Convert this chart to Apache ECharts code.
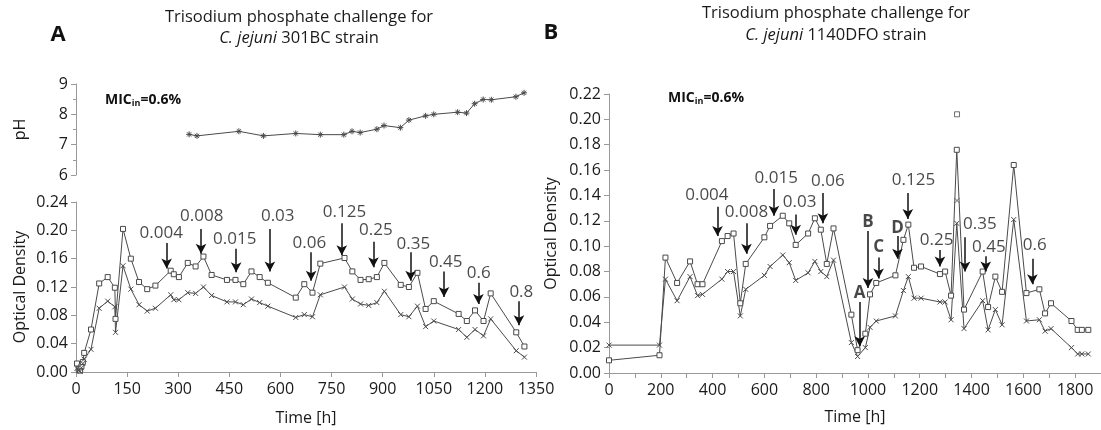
<!DOCTYPE html>
<html>
<head>
<meta charset="utf-8">
<script src="https://cdn.jsdelivr.net/npm/echarts@6/dist/echarts.min.js"></script>
</head>
<body style="margin:0">
<div id="container" style="width:1101px;height:430px"></div>
<script type="text/javascript">
// panel A: 301BC strain
var phTime = [332, 355, 478, 550, 645, 717, 786, 810, 834, 883, 904, 952, 977, 1026, 1050, 1120, 1146, 1170, 1195, 1219, 1291, 1315];
var phValue = [7.34, 7.29, 7.44, 7.29, 7.37, 7.33, 7.33, 7.44, 7.40, 7.51, 7.63, 7.56, 7.81, 7.95, 8.00, 8.07, 8.04, 8.35, 8.49, 8.48, 8.58, 8.71];

var aTime = [3, 8, 12, 16, 20, 24, 44, 68, 93, 114, 116, 138, 161, 185, 209, 233, 278, 287, 302, 328, 351, 374, 398, 443, 468, 491, 515, 539, 563, 645, 670, 694, 717, 788, 811, 835, 859, 883, 905, 953, 977, 1002, 1026, 1050, 1123, 1147, 1171, 1196, 1217, 1292, 1316];
var aSquare = [0.012, 0.004, 0.002, 0.008, 0.014, 0.027, 0.060, 0.125, 0.134, 0.119, 0.075, 0.202, 0.160, 0.127, 0.117, 0.122, 0.143, 0.138, 0.134, 0.154, 0.149, 0.163, 0.137, 0.130, 0.130, 0.124, 0.142, 0.134, 0.126, 0.105, 0.124, 0.112, 0.153, 0.161, 0.142, 0.130, 0.131, 0.134, 0.154, 0.123, 0.120, 0.140, 0.089, 0.100, 0.082, 0.072, 0.087, 0.072, 0.111, 0.056, 0.036];
var aCross = [0.005, 0.002, 0.001, 0.006, 0.012, 0.018, 0.032, 0.090, 0.100, 0.092, 0.056, 0.150, 0.117, 0.095, 0.086, 0.090, 0.109, 0.102, 0.102, 0.112, 0.111, 0.120, 0.108, 0.099, 0.099, 0.095, 0.103, 0.098, 0.093, 0.077, 0.081, 0.078, 0.109, 0.120, 0.103, 0.096, 0.094, 0.098, 0.114, 0.081, 0.078, 0.093, 0.064, 0.072, 0.060, 0.049, 0.060, 0.051, 0.075, 0.030, 0.021];

// concentration arrows, panel A: [time, arrow top, arrow tip]
var aArrowText = ['0.004', '0.008', '0.015', '0.03', '0.06', '0.125', '0.25', '0.35', '0.45', '0.6', '0.8'];
var aArrowTime = [266, 367, 470, 569, 690, 780, 873, 982, 1080, 1181, 1300];
var aArrowTop = [0.182, 0.202, 0.174, 0.202, 0.169, 0.210, 0.184, 0.169, 0.142, 0.126, 0.100];
var aArrowTip = [0.146, 0.167, 0.141, 0.142, 0.129, 0.165, 0.148, 0.129, 0.106, 0.096, 0.066];
var aLabelTime = [250, 369, 466, 592, 685, 788, 880, 990, 1085, 1182, 1307];
var aLabelOD = [0.196, 0.220, 0.188, 0.220, 0.182, 0.226, 0.200, 0.181, 0.155, 0.140, 0.113];

// panel B: 1140DFO strain
var bTime = [0, 195, 218, 263, 313, 342, 361, 436, 458, 481, 507, 528, 600, 622, 671, 696, 721, 769, 795, 818, 841, 867, 936, 960, 990, 1008, 1032, 1106, 1137, 1156, 1178, 1205, 1278, 1298, 1321, 1343, 1371, 1443, 1464, 1492, 1518, 1563, 1612, 1662, 1684, 1707, 1786, 1810, 1826, 1851];
var bSquare = [0.010, 0.014, 0.091, 0.071, 0.088, 0.070, 0.070, 0.104, 0.108, 0.110, 0.055, 0.086, 0.107, 0.116, 0.124, 0.118, 0.101, 0.110, 0.122, 0.113, 0.086, 0.114, 0.046, 0.018, 0.031, 0.062, 0.071, 0.077, 0.105, 0.117, 0.083, 0.084, 0.078, 0.080, 0.061, 0.176, 0.050, 0.080, 0.052, 0.076, 0.064, 0.164, 0.063, 0.066, 0.047, 0.055, 0.041, 0.034, 0.034, 0.034];
var bCross = [0.022, 0.022, 0.074, 0.057, 0.076, 0.061, 0.062, 0.074, 0.080, 0.080, 0.045, 0.066, 0.077, 0.084, 0.093, 0.087, 0.073, 0.079, 0.088, 0.080, 0.076, 0.089, 0.024, 0.013, 0.020, 0.036, 0.041, 0.045, 0.065, 0.076, 0.059, 0.059, 0.056, 0.056, 0.042, 0.118, 0.035, 0.057, 0.034, 0.050, 0.038, 0.121, 0.041, 0.042, 0.033, 0.035, 0.020, 0.015, 0.015, 0.015];
var bLoneSquare = [[1344, 0.204]];
var bLoneCross = [[1344, 0.136]];

var bArrowText = ['0.004', '0.008', '0.015', '0.03', '0.06', 'A', 'B', 'C', 'D', '0.125', '0.25', '0.35', '0.45', '0.6'];
var bArrowTime = [419, 531, 637, 721, 826, 968, 1000, 1041, 1114, 1154, 1278, 1375, 1455, 1635];
var bArrowTop = [0.131, 0.118, 0.145, 0.125, 0.142, 0.056, 0.112, 0.091, 0.108, 0.142, 0.097, 0.107, 0.092, 0.090];
var bArrowTip = [0.108, 0.094, 0.124, 0.109, 0.118, 0.021, 0.067, 0.0745, 0.090, 0.1215, 0.084, 0.080, 0.080, 0.070];
var bLabelTime = [378, 531, 646, 736, 845, 968, 1000, 1041, 1114, 1176, 1265, 1432, 1467, 1644];
var bLabelOD = [0.140, 0.127, 0.154, 0.1346, 0.1516, 0.0633, 0.119, 0.0993, 0.114, 0.152, 0.105, 0.117, 0.0993, 0.101];

var FONT = 'Open Sans';
var INK = '#1a1a1a';
var LINE = '#4a4a4a';
var AXIS = '#999';
var crossSym = 'path://M0,0L10,10M10,0L0,10';
var starSym = 'path://M5,0L5,10M0,5L10,5M1.5,1.5L8.5,8.5M8.5,1.5L1.5,8.5';

function zip(xs, ys) {
    return xs.map(function (x, i) { return [x, ys[i]]; });
}

function arrowLines(time, top, tip) {
    return time.map(function (t, i) {
        return [{ coord: [t, top[i]] }, { coord: [t, tip[i]] }];
    });
}

function labelPoints(text, time, od) {
    return text.map(function (s, i) {
        var bold = /^[A-D]$/.test(s);
        return {
            name: s,
            value: [time[i], od[i]],
            label: bold ? { fontWeight: 'bold', fontSize: 17 } : {}
        };
    });
}

function valueAxisStyle(extra) {
    var base = {
        type: 'value',
        axisLine: { show: true, lineStyle: { color: AXIS, width: 1 } },
        axisTick: { show: true, length: 5, lineStyle: { color: AXIS } },
        splitLine: { show: false },
        axisLabel: { color: INK, fontFamily: FONT, fontSize: 16 },
        nameTextStyle: { color: INK, fontFamily: FONT, fontSize: 16 }
    };
    for (var k in extra) base[k] = extra[k];
    return base;
}

var dom = document.getElementById('container');
var myChart = echarts.init(dom, null, { renderer: 'canvas' });

var lineSeries = function (data, xi, sym, size, fill) {
    return {
        type: 'line',
        xAxisIndex: xi,
        yAxisIndex: xi,
        data: data,
        symbol: sym,
        symbolSize: size,
        showAllSymbol: true,
        animation: false,
        lineStyle: { color: LINE, width: 1 },
        itemStyle: { color: fill, borderColor: LINE, borderWidth: 1 },
        z: 3
    };
};

var arrowSeries = function (xi, lines, labels) {
    return {
        type: 'scatter',
        xAxisIndex: xi,
        yAxisIndex: xi,
        data: labels,
        symbolSize: 1,
        itemStyle: { color: 'rgba(0,0,0,0)' },
        animation: false,
        label: {
            show: true,
            position: 'inside',
            formatter: '{b}',
            color: INK,
            fontFamily: FONT,
            fontSize: 17
        },
        markLine: {
            silent: true,
            animation: false,
            symbol: ['none', 'arrow'],
            symbolSize: [8, 10],
            label: { show: false },
            lineStyle: { color: '#111', width: 1.5, type: 'solid' },
            data: lines
        },
        z: 5
    };
};

var mic = {
    text: '{b|MIC}{s|in}{b|=0.6%}', fill: '#111', textVerticalAlign: 'middle',
    rich: {
        b: { fontWeight: 'bold', fontFamily: FONT, fontSize: 14, fill: '#111' },
        s: { fontWeight: 'bold', fontFamily: FONT, fontSize: 9, fill: '#111', verticalAlign: 'bottom', padding: [6, 0, 0, 0] }
    }
};
var italic = { i: { fontStyle: 'italic', fontFamily: FONT, fontSize: 16.5, fill: INK } };
var titleFont = '16.5px "Open Sans"';

var option = {
    animation: false,
    graphic: [
        { type: 'text', x: 299, y: 17, style: { text: 'Trisodium phosphate challenge for', font: titleFont, fill: INK, textAlign: 'center', textVerticalAlign: 'middle' } },
        { type: 'text', x: 299, y: 38, style: { text: '{i|C. jejuni} 301BC strain', font: titleFont, fill: INK, textAlign: 'center', textVerticalAlign: 'middle', rich: italic } },
        { type: 'text', x: 836, y: 13, style: { text: 'Trisodium phosphate challenge for', font: titleFont, fill: INK, textAlign: 'center', textVerticalAlign: 'middle' } },
        { type: 'text', x: 836, y: 35, style: { text: '{i|C. jejuni} 1140DFO strain', font: titleFont, fill: INK, textAlign: 'center', textVerticalAlign: 'middle', rich: italic } },
        { type: 'text', x: 58, y: 35, style: { text: 'A', font: 'bold 22px "Open Sans"', fill: '#111', textAlign: 'center', textVerticalAlign: 'middle' } },
        { type: 'text', x: 551, y: 33, style: { text: 'B', font: 'bold 22px "Open Sans"', fill: '#111', textAlign: 'center', textVerticalAlign: 'middle' } },
        { type: 'text', x: 105, y: 100, style: mic },
        { type: 'text', x: 668, y: 98, style: mic }
    ],
    grid: [
        { left: 76, top: 84, width: 460, height: 91 },
        { left: 76, top: 202, width: 460, height: 170 },
        { left: 609, top: 94, width: 494, height: 281 }
    ],
    xAxis: [
        valueAxisStyle({ gridIndex: 0, min: 0, max: 1350, show: false }),
        valueAxisStyle({
            gridIndex: 1, min: 0, max: 1350, interval: 150,
            name: 'Time [h]', nameLocation: 'middle', nameGap: 38,
            axisLabel: { color: INK, fontFamily: FONT, fontSize: 16, margin: 9, formatter: function (v) { return String(v); } }
        }),
        valueAxisStyle({
            gridIndex: 2, min: 0, max: 1900, interval: 100,
            name: 'Time [h]', nameLocation: 'middle', nameGap: 36,
            axisTick: { show: true, length: 5, lineStyle: { color: AXIS } },
            axisLabel: {
                color: INK, fontFamily: FONT, fontSize: 16, margin: 9,
                showMaxLabel: false, hideOverlap: false,
                formatter: function (v) { return v % 200 === 0 && v < 1900 ? String(v) : ''; }
            }
        })
    ],
    yAxis: [
        valueAxisStyle({
            gridIndex: 0, min: 6, max: 9, interval: 1,
            name: 'pH', nameLocation: 'middle', nameGap: 48,
            minorTick: { show: true, splitNumber: 2, length: 3, lineStyle: { color: AXIS } }
        }),
        valueAxisStyle({
            gridIndex: 1, min: 0, max: 0.24, interval: 0.04,
            name: 'Optical Density', nameLocation: 'middle', nameGap: 48,
            axisLabel: { color: INK, fontFamily: FONT, fontSize: 16, formatter: function (v) { return v.toFixed(2); } }
        }),
        valueAxisStyle({
            gridIndex: 2, min: 0, max: 0.22, interval: 0.02,
            name: 'Optical Density', nameLocation: 'middle', nameGap: 50,
            axisLabel: { color: INK, fontFamily: FONT, fontSize: 16, formatter: function (v) { return v.toFixed(2); } }
        })
    ],
    series: [
        lineSeries(zip(phTime, phValue), 0, starSym, 6, 'rgba(0,0,0,0)'),
        lineSeries(zip(aTime, aSquare), 1, 'rect', 5, '#fff'),
        lineSeries(zip(aTime, aCross), 1, crossSym, 5, 'rgba(0,0,0,0)'),
        arrowSeries(1, arrowLines(aArrowTime, aArrowTop, aArrowTip), labelPoints(aArrowText, aLabelTime, aLabelOD)),
        lineSeries(zip(bTime, bSquare), 2, 'rect', 5, '#fff'),
        lineSeries(zip(bTime, bCross), 2, crossSym, 5, 'rgba(0,0,0,0)'),
        {
            type: 'scatter', xAxisIndex: 2, yAxisIndex: 2, data: bLoneSquare,
            symbol: 'rect', symbolSize: 5,
            itemStyle: { color: '#fff', borderColor: LINE, borderWidth: 1 }
        },
        {
            type: 'scatter', xAxisIndex: 2, yAxisIndex: 2, data: bLoneCross,
            symbol: crossSym, symbolSize: 5,
            itemStyle: { color: 'rgba(0,0,0,0)', borderColor: LINE, borderWidth: 1 }
        },
        arrowSeries(2, arrowLines(bArrowTime, bArrowTop, bArrowTip), labelPoints(bArrowText, bLabelTime, bLabelOD))
    ]
};

if (option && typeof option === 'object') {
    myChart.setOption(option);
}
</script>
</body>
</html>
